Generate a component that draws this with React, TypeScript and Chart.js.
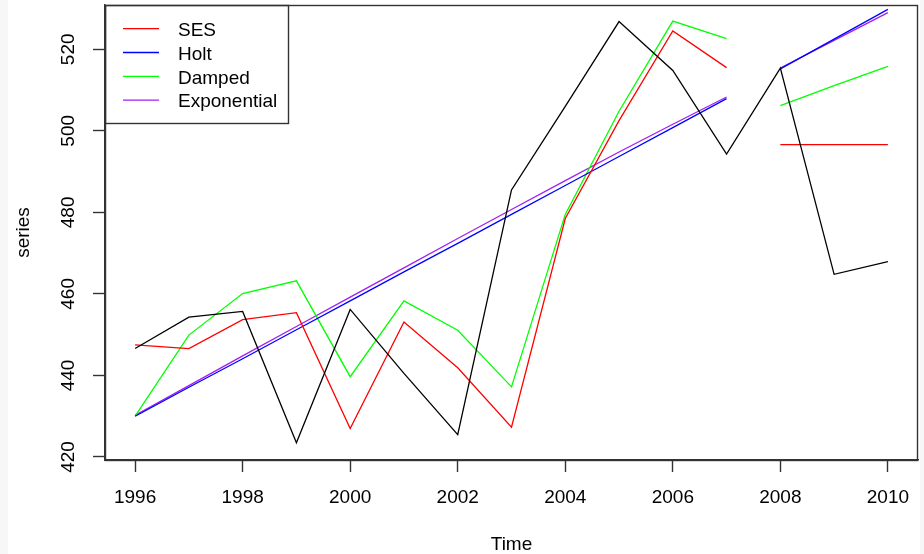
import React, { useEffect, useRef } from "react";
import { Chart, registerables } from "chart.js";

Chart.register(...registerables);

// ---- data ----
const years = [1996, 1997, 1998, 1999, 2000, 2001, 2002, 2003, 2004, 2005, 2006, 2007, 2008, 2009, 2010];
const series = [446.6, 454.3, 455.7, 423.5, 456.2, 440.5, 425.5, 485.5, 506.0, 526.8, 514.8, 494.3, 515.4, 464.8, 467.9];

const fitYears = [1996, 1997, 1998, 1999, 2000, 2001, 2002, 2003, 2004, 2005, 2006, 2007];
const fcYears = [2008, 2009, 2010];

const sesFit = [447.5, 446.6, 453.7, 455.4, 427.0, 453.1, 441.9, 427.3, 478.5, 502.5, 524.5, 515.5];
const sesFc = [496.6, 496.6, 496.6];
const holtFit = [430.0, 437.1, 444.1, 451.2, 458.3, 465.4, 472.4, 479.5, 486.6, 493.7, 500.8, 507.9];
const holtFc = [515.2, 522.5, 529.8];
const dampedFit = [430.0, 449.9, 460.1, 463.2, 439.7, 458.3, 451.1, 437.2, 479.5, 504.8, 526.9, 522.6];
const dampedFc = [506.2, 511.1, 515.8];
const expFit = [430.2, 437.5, 444.8, 452.0, 459.2, 466.4, 473.6, 480.7, 487.8, 494.8, 501.6, 508.3];
const expFc = [515.4, 522.2, 529.0];

const xTicks = [1996, 1998, 2000, 2002, 2004, 2006, 2008, 2010];
const yTicks = [420, 440, 460, 480, 500, 520];

const xTitle = "Time";
const yTitle = "series";
const legendLabels = ["SES", "Holt", "Damped", "Exponential"];
const legendColors = ["#ff0000", "#0000ff", "#00ff00", "#a020f0"];

const pts = (xs: number[], ys: number[]) => xs.map((x, i) => ({ x, y: ys[i] }));

const FONT = "'Liberation Sans', Arial, Helvetica, sans-serif";

const bgPlugin = {
  id: "bgPlugin",
  beforeDraw(chart: any) {
    const { ctx, width, height } = chart;
    ctx.save();
    ctx.fillStyle = "#f7f7f7";
    ctx.fillRect(0, 0, width, height);
    ctx.fillStyle = "#ffffff";
    ctx.fillRect(8, 0, 912, height);
    ctx.restore();
  },
};

const boxLegendPlugin = {
  id: "boxLegendPlugin",
  afterDraw(chart: any) {
    const { ctx, chartArea } = chart;
    const { left, top, right, bottom } = chartArea;
    ctx.save();
    ctx.strokeStyle = "#333333";
    ctx.lineWidth = 1.4;
    ctx.strokeRect(left + 0.5, top + 0.5, right - left - 1, bottom - top);
    // legend box
    const lw = 183;
    const lh = 118;
    ctx.strokeRect(left + 0.5, top + 0.5, lw, lh);
    ctx.font = `19px ${FONT}`;
    ctx.textBaseline = "middle";
    ctx.textAlign = "left";
    legendLabels.forEach((lab, i) => {
      const y = top + 23.7 + i * 23.8;
      ctx.strokeStyle = legendColors[i];
      ctx.lineWidth = 1.3;
      ctx.beginPath();
      ctx.moveTo(left + 18, y);
      ctx.lineTo(left + 54, y);
      ctx.stroke();
      ctx.fillStyle = "#000000";
      ctx.fillText(lab, left + 73, y + 2);
    });
    ctx.restore();
  },
};

export default function App() {
  const ref = useRef<HTMLCanvasElement | null>(null);

  useEffect(() => {
    if (!ref.current) return;
    const mk = (label: string, xs: number[], ys: number[], color: string) => ({
      label,
      data: pts(xs, ys),
      borderColor: color,
      backgroundColor: color,
      borderWidth: 1.3,
      pointRadius: 0,
      fill: false,
      tension: 0,
    });
    const chart = new Chart(ref.current, {
      type: "line",
      data: {
        datasets: [
          mk("series", years, series, "#000000"),
          mk(legendLabels[0], fitYears, sesFit, legendColors[0]),
          mk(legendLabels[0] + " forecast", fcYears, sesFc, legendColors[0]),
          mk(legendLabels[1], fitYears, holtFit, legendColors[1]),
          mk(legendLabels[1] + " forecast", fcYears, holtFc, legendColors[1]),
          mk(legendLabels[2], fitYears, dampedFit, legendColors[2]),
          mk(legendLabels[2] + " forecast", fcYears, dampedFc, legendColors[2]),
          mk(legendLabels[3], fitYears, expFit, legendColors[3]),
          mk(legendLabels[3] + " forecast", fcYears, expFc, legendColors[3]),
        ],
      },
      options: {
        animation: false,
        responsive: false,
        devicePixelRatio: 1,
        layout: { padding: { left: 0, top: 5, right: 6, bottom: 0 } },
        plugins: {
          legend: { display: false },
          tooltip: { enabled: false },
        },
        scales: {
          x: {
            type: "linear",
            min: 1995.44,
            max: 2010.56,
            afterBuildTicks: (s: any) => {
              s.ticks = xTicks.map((v) => ({ value: v }));
            },
            afterFit: (s: any) => {
              s.height = 94;
              s.paddingLeft = 0;
              s.paddingRight = 0;
            },
            ticks: {
              autoSkip: false,
              minRotation: 0,
              maxRotation: 0,
              padding: 14,
              color: "#000000",
              font: { size: 19, family: FONT },
              callback: (v: any) => String(v),
            },
            grid: {
              drawOnChartArea: false,
              drawTicks: true,
              tickLength: 12,
              color: "#333333",
              tickColor: "#333333",
              tickWidth: 1.4,
            },
            border: { display: true, color: "#333333", width: 1.4 },
            title: {
              display: true,
              text: xTitle,
              color: "#000000",
              font: { size: 19, family: FONT, lineHeight: 1 },
              padding: { top: 0, bottom: 0 },
            },
          },
          y: {
            type: "linear",
            min: 419.26,
            max: 530.86,
            afterBuildTicks: (s: any) => {
              s.ticks = yTicks.map((v) => ({ value: v }));
            },
            afterFit: (s: any) => {
              s.width = 105;
              s.paddingTop = 0;
              s.paddingBottom = 0;
            },
            ticks: {
              autoSkip: false,
              minRotation: 90,
              maxRotation: 90,
              crossAlign: "center",
              padding: 8,
              color: "#000000",
              font: { size: 19, family: FONT },
              callback: (v: any) => String(v),
            },
            grid: {
              drawOnChartArea: false,
              drawTicks: true,
              tickLength: 12,
              color: "#333333",
              tickColor: "#333333",
              tickWidth: 1.4,
            },
            border: { display: true, color: "#333333", width: 1.4 },
            title: {
              display: true,
              text: yTitle,
              color: "#000000",
              font: { size: 19, family: FONT, lineHeight: 1 },
              padding: { top: 14.6, bottom: 0 },
            },
          },
        },
      },
      plugins: [bgPlugin, boxLegendPlugin],
    } as any);
    return () => chart.destroy();
  }, []);

  return (
    <div style={{ position: "fixed", left: 0, top: 0, width: 924, height: 554 }}>
      <canvas ref={ref} width={924} height={554} style={{ width: 924, height: 554, display: "block" }} />
    </div>
  );
}
